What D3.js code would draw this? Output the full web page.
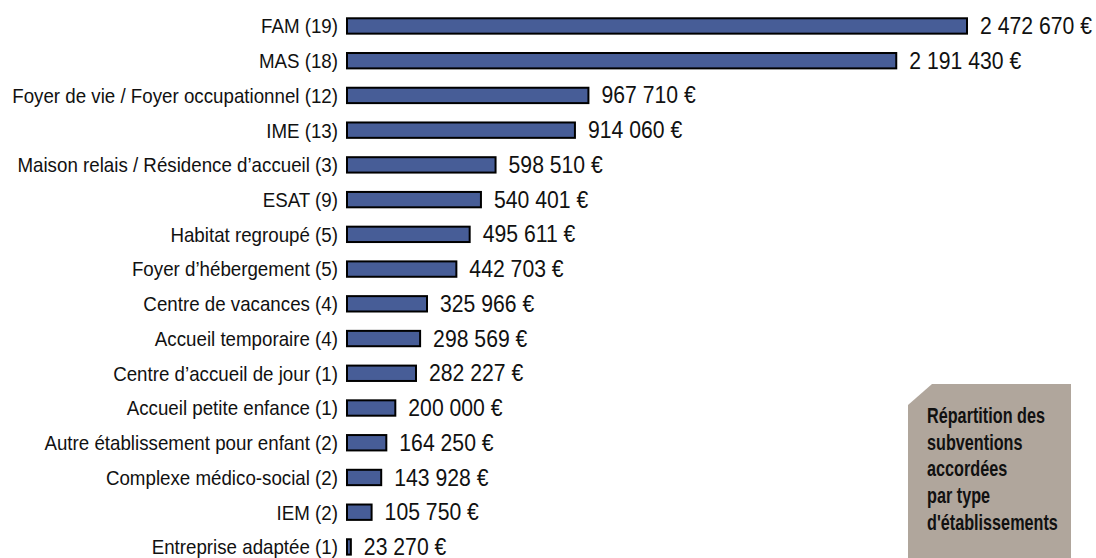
<html>
<head>
  <meta charset="utf-8">
  <title>Répartition des subventions</title>
  <script src="https://d3js.org/d3.v7.min.js"></script>
  <style>
    body { margin: 0; background: #fff; }
    text { font-family: "Liberation Sans", Arial, sans-serif; fill: #111; }
    .label { font-size: 20.5px; }
    .value { font-size: 23px; }
    .box-title { font-size: 22px; font-weight: bold; }
  </style>
</head>
<body>
  <div id="chart"></div>

  <script type="text/javascript">

    // types d'établissements, nombre de projets, montant des subventions
    var categories = ['FAM', 'MAS', 'Foyer de vie / Foyer occupationnel', 'IME',
                      'Maison relais / Résidence d\u2019accueil', 'ESAT', 'Habitat regroupé',
                      'Foyer d\u2019hébergement', 'Centre de vacances', 'Accueil temporaire',
                      'Centre d\u2019accueil de jour', 'Accueil petite enfance',
                      'Autre établissement pour enfant', 'Complexe médico-social', 'IEM',
                      'Entreprise adaptée'];
    var counts = [19, 18, 12, 13, 3, 9, 5, 5, 4, 4, 1, 1, 2, 2, 2, 1];
    var amounts = [2472670, 2191430, 967710, 914060, 598510, 540401, 495611, 442703,
                   325966, 298569, 282227, 200000, 164250, 143928, 105750, 23270];
    var titleLines = ['Répartition des', 'subventions', 'accordées', 'par type', 'd\'établissements'];

    var width = 1096, height = 558;

    var data = categories.map(function(c, i) {
      return {cat: c, n: counts[i], v: amounts[i]};
    });

    var x = d3.scaleLinear().domain([0, d3.max(amounts)]).range([346, 968]);
    var y = d3.scaleBand().domain(categories).range([8.6, 564.3]).paddingInner(0.5).paddingOuter(0.25);

    var fmt = d3.formatLocale({decimal: ',', thousands: '\u00a0', grouping: [3], currency: ['', ' €']}).format(',d');

    var svg = d3.select('#chart')
                .append('svg')
                  .attr('width', width)
                  .attr('height', height);

    // the reference font is a condensed one: squeeze text horizontally
    // so that the widest string of each group gets its width from the picture
    function squeeze(sel, target) {
      var w = d3.max(sel.nodes(), function(n) { return n.getComputedTextLength(); });
      return target / w;
    }

    // encadré titre
    svg.append('path')
       .attr('d', 'M908,405 L932,384 L1071,384 L1071,558 L908,558 Z')
       .attr('fill', '#b0a69c');

    var title = svg.append('g')
       .selectAll('text')
       .data(titleLines)
       .enter().append('text')
         .attr('class', 'box-title')
         .text(function(d) { return d; });
    var ts = squeeze(title, 131);
    title.attr('transform', function(d, i) {
      return 'translate(927,' + (423 + i * 26.7) + ') scale(' + ts + ',1)';
    });

    var rows = svg.append('g')
                  .selectAll('g')
                  .data(data)
                  .enter().append('g');

    rows.append('rect')
        .attr('x', x(0) + 1)
        .attr('y', function(d) { return y(d.cat) + 1; })
        .attr('width', function(d) { return Math.max(x(d.v) - x(0) - 2, 0.5); })
        .attr('height', y.bandwidth() - 2)
        .attr('fill', '#475d97')
        .attr('stroke', '#000')
        .attr('stroke-width', 2);

    var labels = rows.append('text')
        .attr('class', 'label')
        .attr('dy', '0.36em')
        .attr('text-anchor', 'end')
        .text(function(d) { return d.cat + ' (' + d.n + ')'; });
    var ls = squeeze(labels, 326);
    labels.attr('transform', function(d) {
      return 'translate(338,' + (y(d.cat) + y.bandwidth() / 2) + ') scale(' + ls + ',1)';
    });

    var values = rows.append('text')
        .attr('class', 'value')
        .attr('dy', '0.35em')
        .text(function(d) { return fmt(d.v) + ' €'; });
    var vs = squeeze(values, 112);
    values.attr('transform', function(d) {
      return 'translate(' + (x(d.v) + 12) + ',' + (y(d.cat) + y.bandwidth() / 2) + ') scale(' + vs + ',1)';
    });

  </script>
</body>
</html>
